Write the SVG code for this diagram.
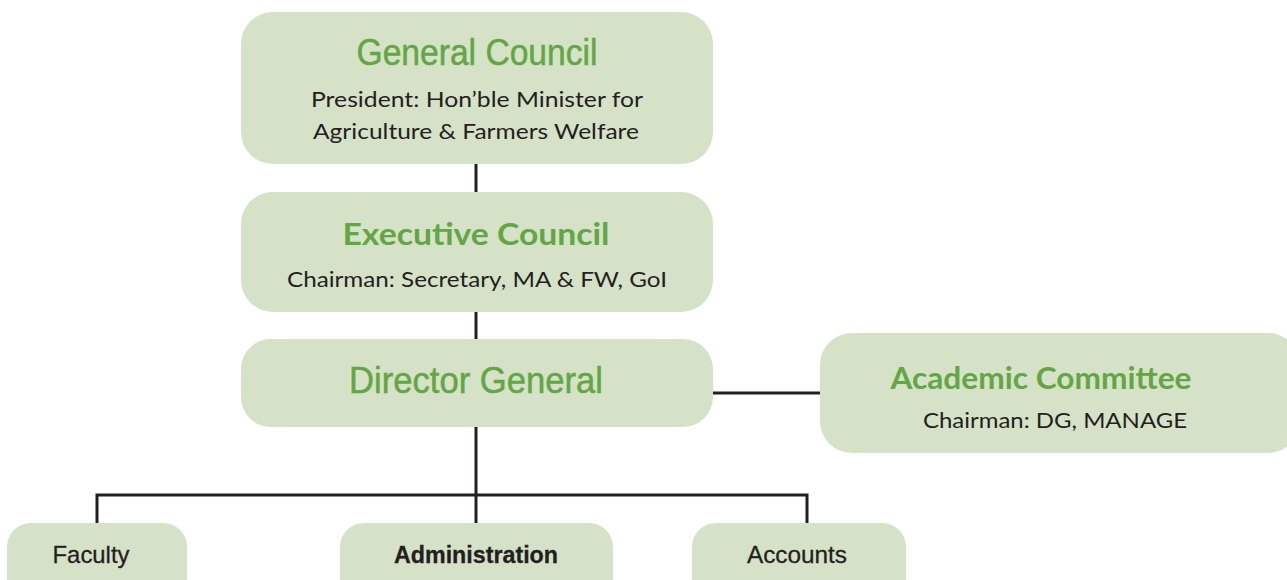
<svg xmlns="http://www.w3.org/2000/svg" width="1287" height="580" viewBox="0 0 1287 580">
<style>
.box{fill:#d6e2c7;}
.ttl{fill:#62a744;stroke:#62a744;stroke-width:0.5;font-family:"Liberation Sans",Arimo,sans-serif;font-size:36px;text-anchor:middle;}
.ttlb{fill:#62a744;font-family:Lato,"Liberation Sans",sans-serif;font-weight:bold;font-size:30px;text-anchor:middle;}
.sub{fill:#231f20;font-family:Lato,"Liberation Sans",sans-serif;font-size:22px;text-anchor:middle;}
.lbl{fill:#231f20;stroke:#231f20;stroke-width:0.3;font-family:"Liberation Sans",Arimo,sans-serif;font-size:24px;text-anchor:middle;}
.con{stroke:#231f20;stroke-width:3;fill:none;}
</style>
<rect width="1287" height="580" fill="#ffffff"/>
<g id="connectors">
<line class="con" x1="476" y1="164" x2="476" y2="192"/>
<line class="con" x1="476" y1="312" x2="476" y2="339"/>
<line class="con" x1="713" y1="393" x2="820" y2="393"/>
<line class="con" x1="476" y1="427" x2="476" y2="523"/>
<polyline class="con" points="97,523 97,495 807,495 807,523"/>
</g>
<g id="general-council">
<rect class="box" x="241" y="12" width="472" height="152" rx="32"/>
<text class="ttl" x="477" y="65" textLength="241" lengthAdjust="spacingAndGlyphs">General Council</text>
<text class="sub" x="477" y="107" textLength="332" lengthAdjust="spacingAndGlyphs">President: Hon’ble Minister for</text>
<text class="sub" x="476" y="139" textLength="326" lengthAdjust="spacingAndGlyphs">Agriculture &amp; Farmers Welfare</text>
</g>
<g id="executive-council">
<rect class="box" x="241" y="192" width="472" height="120" rx="32"/>
<text class="ttlb" x="476" y="245" textLength="267" lengthAdjust="spacingAndGlyphs">Executive Council</text>
<text class="sub" x="477" y="287" textLength="380" lengthAdjust="spacingAndGlyphs">Chairman: Secretary, MA &amp; FW, GoI</text>
</g>
<g id="director-general">
<rect class="box" x="241" y="339" width="472" height="88" rx="30"/>
<text class="ttl" x="476" y="393" textLength="254" lengthAdjust="spacingAndGlyphs">Director General</text>
</g>
<g id="academic-committee">
<rect class="box" x="820" y="333" width="480" height="120" rx="32"/>
<text class="ttlb" x="1041" y="389" textLength="301" lengthAdjust="spacingAndGlyphs">Academic Committee</text>
<text class="sub" x="1055" y="428" textLength="264" lengthAdjust="spacingAndGlyphs">Chairman: DG, MANAGE</text>
</g>
<g id="faculty">
<rect class="box" x="7" y="523" width="180" height="90" rx="24"/>
<text class="lbl" x="91" y="563" textLength="77" lengthAdjust="spacingAndGlyphs">Faculty</text>
</g>
<g id="administration">
<rect class="box" x="340" y="523" width="273" height="90" rx="24"/>
<text class="lbl" x="476" y="563" font-weight="bold" textLength="164" lengthAdjust="spacingAndGlyphs">Administration</text>
</g>
<g id="accounts">
<rect class="box" x="692" y="523" width="214" height="90" rx="24"/>
<text class="lbl" x="797" y="563" textLength="100" lengthAdjust="spacingAndGlyphs">Accounts</text>
</g>
</svg>
